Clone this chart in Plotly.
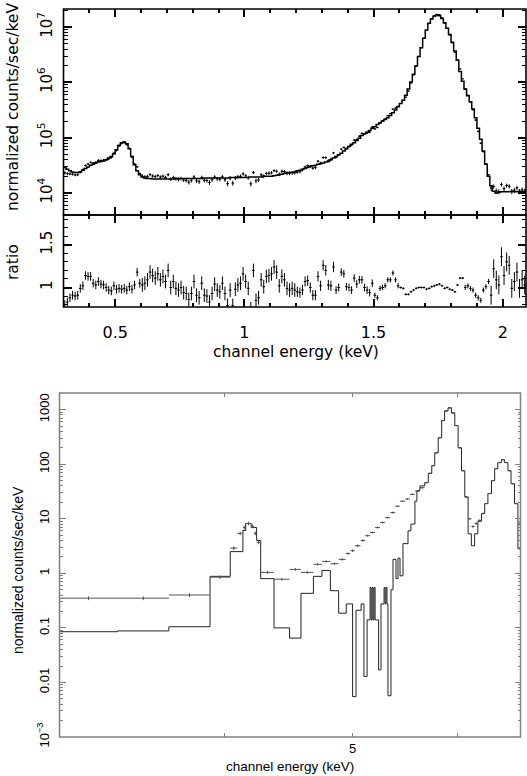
import numpy as np
import plotly.graph_objects as go

# ---------------- top spectrum (0.3-2.1 keV, 0.01 keV channels) ----------------
top_e_start = 0.30
top_bin_width = 0.01
# log10 of the model (normalized counts/sec/keV) per channel
top_model_log = [
    4.46, 4.43, 4.40, 4.38, 4.37, 4.37, 4.38, 4.41, 4.44, 4.47,
    4.50, 4.52, 4.54, 4.56, 4.57, 4.58, 4.60, 4.63, 4.66, 4.71,
    4.78, 4.86, 4.91, 4.92, 4.89, 4.80, 4.66, 4.51, 4.40, 4.33,
    4.29, 4.27, 4.26, 4.26, 4.25, 4.25, 4.25, 4.25, 4.25, 4.25,
    4.25, 4.25, 4.25, 4.26, 4.26, 4.26, 4.26, 4.26, 4.26, 4.26,
    4.26, 4.26, 4.26, 4.26, 4.27, 4.27, 4.27, 4.27, 4.27, 4.27,
    4.27, 4.27, 4.27, 4.27, 4.28, 4.28, 4.28, 4.28, 4.28, 4.28,
    4.28, 4.28, 4.29, 4.29, 4.29, 4.29, 4.29, 4.30, 4.30, 4.30,
    4.30, 4.31, 4.32, 4.33, 4.34, 4.35, 4.36, 4.37, 4.37, 4.38,
    4.40, 4.41, 4.43, 4.44, 4.46, 4.48, 4.49, 4.50, 4.52, 4.53,
    4.54, 4.56, 4.57, 4.60, 4.63, 4.66, 4.69, 4.72, 4.76, 4.80,
    4.84, 4.88, 4.91, 4.95, 4.99, 5.04, 5.07, 5.10, 5.13, 5.17,
    5.20, 5.24, 5.27, 5.30, 5.33, 5.36, 5.40, 5.45, 5.50, 5.56,
    5.62, 5.68, 5.77, 5.88, 6.01, 6.15, 6.30, 6.47, 6.63, 6.80,
    6.95, 7.07, 7.15, 7.20, 7.22, 7.21, 7.16, 7.08, 6.98, 6.87,
    6.73, 6.57, 6.40, 6.20, 6.02, 5.88, 5.76, 5.65, 5.52, 5.36,
    5.17, 4.97, 4.76, 4.52, 4.30, 4.13, 4.03, 4.00, 4.01, 4.02,
    4.02, 4.02, 4.02, 4.03, 4.02, 4.02, 4.03, 4.02, 4.02, 4.02,
]
# data / model ratio per channel
top_ratio = [
    0.80, 0.83, 0.88, 0.91, 0.90, 0.91, 0.99, 1.02, 1.14, 1.13,
    1.13, 1.05, 1.03, 1.07, 1.04, 1.03, 1.00, 0.97, 0.96, 1.02,
    0.98, 0.99, 0.98, 0.99, 0.97, 1.01, 0.98, 1.03, 1.18, 1.05,
    1.03, 1.05, 1.09, 1.18, 1.14, 1.11, 1.16, 1.09, 1.13, 1.07,
    1.20, 1.00, 1.07, 0.99, 0.97, 1.00, 0.94, 0.93, 0.86, 0.93,
    1.07, 0.91, 0.88, 1.05, 0.91, 0.90, 0.83, 0.93, 1.04, 0.97,
    0.95, 1.05, 0.93, 0.79, 0.97, 0.79, 0.98, 1.03, 1.05, 1.16,
    1.07, 0.99, 0.75, 1.20, 0.85, 0.88, 1.09, 1.01, 1.13, 1.14,
    1.16, 1.24, 1.18, 1.02, 1.13, 1.09, 0.99, 0.97, 0.99,
    0.97, 0.95, 0.94, 0.97, 1.07, 1.08, 1.00, 0.91, 0.91, 1.13,
    1.02, 1.26, 1.20, 1.03, 1.02, 1.24, 0.97, 1.00, 1.18, 1.16,
    1.01, 1.00, 0.97, 1.11, 1.04, 1.09, 1.09, 1.00, 0.97, 0.94,
    1.05, 0.91, 0.88, 0.99, 1.00, 1.02, 1.09, 1.09, 1.17, 1.09,
    1.02, 1.00, 0.99, 0.92, 0.92, 0.95, 0.97, 0.99, 1.00, 1.00,
    1.00, 0.98, 0.99, 1.01, 1.02, 1.03, 1.04, 1.02, 0.99, 1.00,
    0.98, 0.97, 0.95, 1.03, 1.11, 1.11, 1.00, 1.02, 0.99, 0.97,
    0.91, 0.88, 0.85, 0.97, 1.01, 1.07, 0.91, 1.22, 1.09, 1.03,
    1.36, 1.14, 1.30, 1.26, 0.99, 1.07, 1.18, 0.99, 1.09, 1.03,
    1.03,
]
# 1-sigma error of the ratio per channel
top_ratio_err = ([0.05] * 30 + [0.08] * 60 + [0.06] * 15 + [0.045] * 15 +
                 [0.03] * 10 + [0.012] * 25 + [0.03] * 10 + [0.11] * 15)

# ---------------- bottom spectrum (3-6.7 keV) ----------------
bot_data_edges = [3.0, 3.32, 3.63, 3.90, 4.04, 4.09, 4.13, 4.15, 4.19, 4.21,
                  4.23, 4.26, 4.36, 4.48, 4.57, 4.67, 4.74, 4.81, 4.88, 4.94,
                  4.98, 5.02, 5.07, 5.11, 5.155, 5.20, 5.245, 5.29, 5.34, 5.385,
                  5.43, 5.48, 5.525, 5.575, 5.62, 5.67, 5.705, 5.74, 5.77, 5.805,
                  5.84, 5.87, 5.905, 5.94, 5.975, 6.01, 6.045, 6.08, 6.115, 6.15,
                  6.185, 6.22, 6.26, 6.295, 6.33, 6.37, 6.405, 6.44, 6.48, 6.515,
                  6.555, 6.59, 6.63, 6.67, 6.70]
bot_data_vals = [0.35, 0.35, 0.40, 0.85, 2.9, 5.4, 6.9, 8.2, 7.3, 5.4,
                 3.7, 1.04, 0.78, 1.18, 1.04, 1.46, 1.65, 1.5, 1.8, 2.3,
                 2.6, 3.2, 4.0, 4.9, 5.6, 6.9, 8.5, 10.5, 13, 17,
                 21, 23, 28, 32, 37, 46, 68, 94, 162, 306,
                 630, 950, 1080, 870, 510, 200, 76, 25, 10, 7.2,
                 8.2, 9.3, 12.5, 19, 29, 50, 83, 107, 121, 107,
                 76, 44, 19, 8]
bot_data_relerr = [0.08, 0.08, 0.08, 0.08, 0.08, 0.08, 0.08, 0.08, 0.08, 0.08,
                   0.08, 0.06, 0.06, 0.06, 0.06, 0.05, 0.05, 0.05, 0.05, 0.05,
                   0.05, 0.05, 0.05, 0.04, 0.04, 0.04, 0.04, 0.04, 0.04, 0.03,
                   0.03, 0.03, 0.03, 0.03, 0.03, 0.03, 0.02, 0.02, 0.02, 0.02,
                   0.02, 0.02, 0.02, 0.02, 0.02, 0.02, 0.02, 0.03, 0.04, 0.05,
                   0.05, 0.05, 0.04, 0.03, 0.03, 0.02, 0.02, 0.02, 0.02, 0.02,
                   0.02, 0.03, 0.04, 0.06]

bot_model_edges = [3.0, 3.32, 3.63, 3.90, 4.04, 4.13, 4.15, 4.19, 4.23, 4.26,
                   4.36, 4.48, 4.57, 4.67, 4.74, 4.81, 4.88, 4.945, 5.00, 5.03,
                   5.075, 5.10, 5.128, 5.155, 5.164, 5.173, 5.182, 5.191, 5.20, 5.232,
                   5.254, 5.282, 5.291, 5.30, 5.309, 5.318, 5.346, 5.365, 5.393, 5.412,
                   5.431, 5.459, 5.507, 5.535, 5.574, 5.593, 5.623, 5.67, 5.705, 5.74,
                   5.77, 5.805, 5.84, 5.87, 5.905, 5.94, 5.975, 6.01, 6.045, 6.08,
                   6.115, 6.15, 6.185, 6.22, 6.26, 6.295, 6.33, 6.37, 6.405, 6.44,
                   6.48, 6.515, 6.555, 6.59, 6.63, 6.67, 6.70]
bot_model_vals = [0.085, 0.088, 0.105, 0.88, 2.5, 6.1, 8.2, 6.9, 4.0, 0.80,
                  0.10, 0.065, 0.43, 0.88, 1.13, 0.48, 0.186, 0.275, 0.0055, 0.21,
                  0.275, 0.0129, 0.14, 0.55, 0.14, 0.55, 0.14, 0.55, 0.14, 0.017,
                  0.275, 0.55, 0.275, 0.55, 0.275, 0.0057, 0.5, 1.8, 0.8, 1.9,
                  0.9, 3.5, 6.0, 8.0, 21, 33, 40, 46, 68, 94,
                  162, 306, 630, 950, 1080, 870, 510, 200, 76, 25,
                  5.3, 3.2, 5.3, 9.0, 12.5, 19, 29, 50, 83, 107,
                  121, 107, 76, 44, 19, 2.8]

# tick positions
top_x_major = [0.5, 1.0, 1.5, 2.0]
top_x_major_text = ["0.5", "1", "1.5", "2"]
top_x_minor = [0.3, 0.4, 0.6, 0.7, 0.8, 0.9, 1.1, 1.2, 1.3, 1.4, 1.6, 1.7, 1.8, 1.9]
ratio_minor = [0.8, 0.9, 1.1, 1.2, 1.3, 1.4, 1.6, 1.7, 1.8]

# ---------------- derived quantities ----------------
n_top = len(top_model_log)
top_edges = top_e_start + top_bin_width * np.arange(n_top + 1)
top_cent = 0.5 * (top_edges[:-1] + top_edges[1:])
top_model = 10 ** np.array(top_model_log)
top_r = np.array(top_ratio)
top_re = np.array(top_ratio_err)
top_data = top_model * top_r
top_data_err = top_model * top_re

bde = np.array(bot_data_edges)
bdc = np.sqrt(bde[:-1] * bde[1:])
bdv = np.array(bot_data_vals)
bde_err = bdv * np.array(bot_data_relerr)

W, H = 527, 776
def px(x):
    return x / W
def py(y):
    return 1 - y / H

# panel boxes (pixels)
TOP_L, TOP_R, TOP_T, TOP_B, RAT_B = 63.5, 526, 9, 215, 307
BOT_L, BOT_R, BOT_T, BOT_B = 59.5, 520.5, 393, 737

fig = go.Figure()

fig.add_trace(go.Scatter(
    x=top_edges, y=np.append(top_model, top_model[-1]), mode="lines",
    line=dict(color="black", width=1.5, shape="hv"), xaxis="x", yaxis="y",
    hoverinfo="skip", showlegend=False))
fig.add_trace(go.Scatter(
    x=top_cent, y=top_data, mode="markers", marker=dict(size=1, color="black"),
    error_x=dict(type="constant", value=top_bin_width / 2, width=0, thickness=1, color="black"),
    error_y=dict(type="data", array=top_data_err, width=0, thickness=1, color="black"),
    xaxis="x", yaxis="y", showlegend=False))
fig.add_trace(go.Scatter(
    x=top_cent, y=top_r, mode="markers", marker=dict(size=1, color="black"),
    error_x=dict(type="constant", value=top_bin_width / 2, width=0, thickness=1, color="black"),
    error_y=dict(type="data", array=top_re, width=0, thickness=1, color="black"),
    xaxis="x2", yaxis="y2", showlegend=False))

fig.add_trace(go.Scatter(
    x=bot_model_edges, y=bot_model_vals + [bot_model_vals[-1]], mode="lines",
    line=dict(color="#222222", width=1.0, shape="hv"), xaxis="x3", yaxis="y3",
    hoverinfo="skip", showlegend=False))
fig.add_trace(go.Scatter(
    x=bdc, y=bdv, mode="markers", marker=dict(size=1, color="#444444"),
    error_x=dict(type="data", symmetric=False, array=bde[1:] - bdc,
                 arrayminus=bdc - bde[:-1], width=0, thickness=1, color="#555555"),
    error_y=dict(type="data", array=bde_err, width=0, thickness=1, color="#555555"),
    xaxis="x3", yaxis="y3", showlegend=False))

FONT_TOP = "DejaVu Sans, Verdana, sans-serif"
FONT_BOT = "Liberation Sans, Arial, Helvetica, sans-serif"
dec_minor_top = [m * 10 ** d for d in range(3, 8) for m in range(2, 10)]
dec_minor_bot = [m * 10.0 ** d for d in range(-3, 4) for m in range(2, 10)]

xdom_top = [px(TOP_L), px(TOP_R)]
common_x_top = dict(range=[0.3, 2.09], domain=xdom_top, showline=False,
                    mirror="ticks", ticks="inside", ticklen=8, tickwidth=1.5,
                    tickcolor="black", tickmode="array", tickvals=top_x_major,
                    ticktext=top_x_major_text,
                    minor=dict(ticks="inside", tickmode="array", tickvals=top_x_minor,
                               ticklen=4, tickcolor="black", tickwidth=1.5),
                    showgrid=False, zeroline=False, automargin=False)

shapes = [
    dict(type="rect", xref="paper", yref="paper", x0=px(TOP_L), x1=px(TOP_R),
         y0=py(TOP_B), y1=py(TOP_T), line=dict(color="black", width=1.6)),
    dict(type="rect", xref="paper", yref="paper", x0=px(TOP_L), x1=px(TOP_R),
         y0=py(RAT_B), y1=py(TOP_B), line=dict(color="black", width=1.6)),
    dict(type="rect", xref="paper", yref="paper", x0=px(BOT_L), x1=px(BOT_R),
         y0=py(BOT_B), y1=py(BOT_T), line=dict(color="#808080", width=1.5)),
]

fig.update_layout(
    template="none",
    width=W, height=H, margin=dict(l=0, r=0, t=0, b=0, pad=0),
    paper_bgcolor="white", plot_bgcolor="white",
    font=dict(family=FONT_TOP, color="black", size=15),
    shapes=shapes,
    xaxis=dict(common_x_top, anchor="y", showticklabels=False),
    yaxis=dict(type="log", range=[3.6, 7.33], domain=[py(TOP_B), py(TOP_T)], anchor="x",
               showline=False, mirror="ticks",
               ticks="inside", ticklen=8, tickwidth=1.5, tickcolor="black",
               tickmode="array", tickvals=[1e4, 1e5, 1e6, 1e7],
               ticktext=["10<sup>4</sup>", "10<sup>5</sup>", "10<sup>6</sup>", "10<sup>7</sup>"],
               tickangle=-90, tickfont=dict(size=15, family=FONT_TOP), ticklabelstandoff=8,
               minor=dict(ticks="inside", tickmode="array", tickvals=dec_minor_top, ticklen=4,
                          tickcolor="black", tickwidth=1.3),
               showgrid=False, zeroline=False, automargin=False),
    xaxis2=dict(common_x_top, anchor="y2", showticklabels=True,
                tickfont=dict(size=16, family=FONT_TOP), ticklabelstandoff=14),
    yaxis2=dict(range=[0.772, 1.848], domain=[py(RAT_B), py(TOP_B)], anchor="x2",
                showline=False, mirror="ticks",
                ticks="inside", ticklen=8, tickwidth=1.5, tickcolor="black",
                tickmode="array", tickvals=[1, 1.5], ticktext=["1", "1.5"], tickangle=-90,
                tickfont=dict(size=15, family=FONT_TOP), ticklabelstandoff=8,
                minor=dict(ticks="inside", tickmode="array", tickvals=ratio_minor, ticklen=4,
                           tickcolor="black", tickwidth=1.3),
                showgrid=False, zeroline=False, automargin=False),
    xaxis3=dict(type="log", range=[np.log10(3.0), np.log10(6.7)],
                domain=[px(BOT_L), px(BOT_R)], anchor="y3",
                showline=False, mirror="ticks",
                ticks="inside", ticklen=4, tickwidth=1, tickcolor="#808080",
                tickmode="array", tickvals=[4, 5, 6], ticktext=["", "5", ""],
                tickfont=dict(size=13, family=FONT_BOT), ticklabelstandoff=2,
                showgrid=False, zeroline=False, automargin=False),
    yaxis3=dict(type="log", range=[-3, 3.305], domain=[py(BOT_B), py(BOT_T)], anchor="x3",
                showline=False, mirror="ticks",
                ticks="inside", ticklen=6, tickwidth=1, tickcolor="#808080",
                tickmode="array", tickvals=[1e-3, 1e-2, 1e-1, 1, 10, 100, 1000],
                ticktext=["10<sup>\u22123</sup>", "0.01", "0.1", "1", "10", "100", "1000"],
                tickangle=-90, tickfont=dict(size=13, family=FONT_BOT), ticklabelstandoff=7,
                minor=dict(ticks="inside", tickmode="array", tickvals=dec_minor_bot, ticklen=3,
                           tickcolor="#808080", tickwidth=1),
                showgrid=False, zeroline=False, automargin=False),
    annotations=[
        dict(text="normalized counts/sec/keV", x=px(13), y=py(107), xref="paper", yref="paper",
             textangle=-90, showarrow=False, font=dict(size=15.5, family=FONT_TOP),
             xanchor="center", yanchor="middle"),
        dict(text="ratio", x=px(13), y=py(262), xref="paper", yref="paper",
             textangle=-90, showarrow=False, font=dict(size=15.5, family=FONT_TOP),
             xanchor="center", yanchor="middle"),
        dict(text="channel energy (keV)", x=px(296), y=py(352), xref="paper", yref="paper",
             showarrow=False, font=dict(size=15.5, family=FONT_TOP),
             xanchor="center", yanchor="middle"),
        dict(text="normalized counts/sec/keV", x=px(18), y=py(570), xref="paper", yref="paper",
             textangle=-90, showarrow=False, font=dict(size=14, family=FONT_BOT),
             xanchor="center", yanchor="middle"),
        dict(text="channel energy (keV)", x=px(290), y=py(766), xref="paper", yref="paper",
             showarrow=False, font=dict(size=13.5, family=FONT_BOT),
             xanchor="center", yanchor="middle"),
    ],
)

fig.write_html("out.html", config={"displayModeBar": False},
               post_script="document.body.style.margin='0';document.body.style.padding='0';")
